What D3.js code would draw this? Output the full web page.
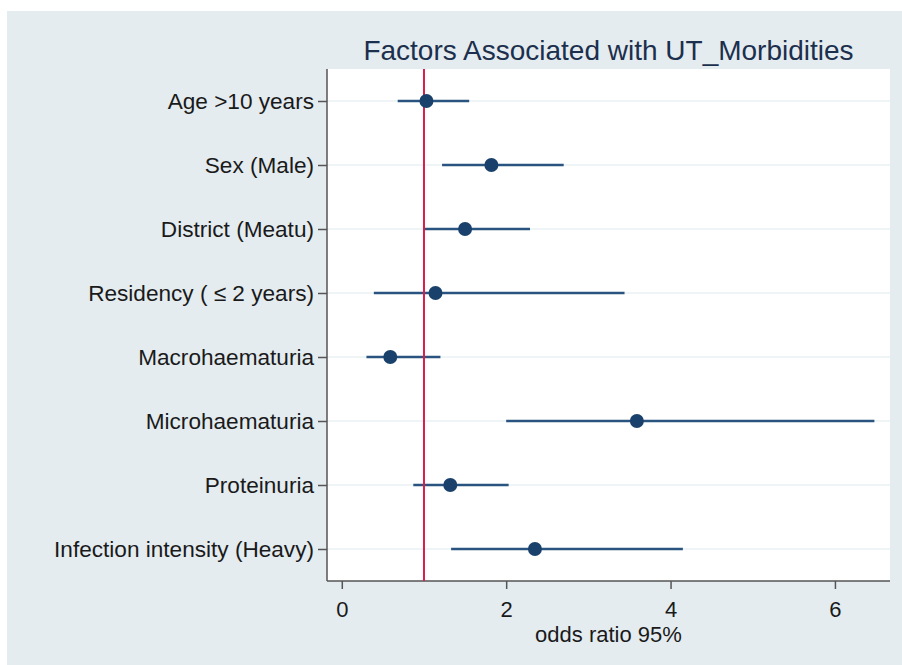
<!DOCTYPE html>
<html>
<head>
<meta charset="utf-8">
<script src="https://cdn.jsdelivr.net/npm/d3@7"></script>
<style>
  body { margin: 0; background: #fff; }
  text { font-family: "Liberation Sans", Arial, sans-serif; }
</style>
</head>
<body>
<div id="chart"></div>
<script>
var width = 902;
var height = 665;
var margin = ({ top: 69, right: 12, bottom: 84, left: 327 });

// factors, top to bottom
var factors = ["Age >10 years", "Sex (Male)", "District (Meatu)", "Residency ( \u2264 2 years)",
    "Macrohaematuria", "Microhaematuria", "Proteinuria", "Infection intensity (Heavy)"];
var oddsRatio = [1.03, 1.82, 1.50, 1.14, 0.59, 3.59, 1.32, 2.35];
var ciLow = [0.68, 1.22, 0.99, 0.39, 0.30, 2.00, 0.87, 1.33];
var ciHigh = [1.55, 2.70, 2.29, 3.44, 1.20, 6.48, 2.03, 4.15];
var xTicks = [0, 2, 4, 6];
var refValue = 1;

var data = factors.map((f, i) => ({ key: f, or: oddsRatio[i], lo: ciLow[i], hi: ciHigh[i] }));

var svg = d3.select("#chart")
    .append("svg")
    .attr("width", width)
    .attr("height", height);

// outer grey panel
svg.append("rect")
    .attr("x", 7)
    .attr("y", 11)
    .attr("width", width - 7)
    .attr("height", height - 11)
    .attr("fill", "#e4ecf0");

var x = d3.scaleLinear()
    .domain([-0.18, 6.67])
    .range([margin.left, width - margin.right]);

var y = d3.scalePoint()
    .domain(factors)
    .range([margin.top, height - margin.bottom])
    .padding(0.5);

// plot area
svg.append("rect")
    .attr("x", margin.left)
    .attr("y", margin.top)
    .attr("width", width - margin.right - margin.left)
    .attr("height", height - margin.bottom - margin.top)
    .attr("fill", "#ffffff");

// horizontal grid lines
svg.append("g")
    .selectAll("line")
    .data(factors)
    .enter()
    .append("line")
    .attr("x1", margin.left)
    .attr("x2", width - margin.right)
    .attr("y1", d => y(d))
    .attr("y2", d => y(d))
    .attr("stroke", "#eaf0f3")
    .attr("stroke-width", 1.5);

var xAxis = g => g
    .attr("transform", `translate(0,${height - margin.bottom})`)
    .call(d3.axisBottom(x)
        .tickValues(xTicks)
        .tickFormat(d3.format("d"))
        .tickSize(8)
        .tickPadding(12)
        .tickSizeOuter(0))
    .call(g => g.select(".domain")
        .attr("stroke", "#555")
        .attr("stroke-width", 1.5)
        .attr("d", `M${margin.left},0H${width - margin.right}`))
    .call(g => g.selectAll(".tick line").attr("stroke", "#555").attr("stroke-width", 1.5))
    .call(g => g.selectAll(".tick text")
        .attr("fill", "#1a1a1a")
        .style("font-size", "22px")
        .style("font-family", "Liberation Sans, Arial, sans-serif"));

var yAxis = g => g
    .attr("transform", `translate(${margin.left},0)`)
    .call(d3.axisLeft(y)
        .tickSize(9)
        .tickPadding(4)
        .tickSizeOuter(0))
    .call(g => g.select(".domain")
        .attr("stroke", "#555")
        .attr("stroke-width", 1.5)
        .attr("d", `M0,${margin.top}V${height - margin.bottom}`))
    .call(g => g.selectAll(".tick line").attr("stroke", "#555").attr("stroke-width", 1.5))
    .call(g => g.selectAll(".tick text")
        .attr("fill", "#1a1a1a")
        .style("font-size", "22.6px")
        .style("font-family", "Liberation Sans, Arial, sans-serif"));

svg.append("g").call(xAxis);
svg.append("g").call(yAxis);

// confidence intervals
svg.append("g")
    .selectAll("line")
    .data(data)
    .enter()
    .append("line")
    .attr("x1", d => x(d.lo))
    .attr("x2", d => x(d.hi))
    .attr("y1", d => y(d.key))
    .attr("y2", d => y(d.key))
    .attr("stroke", "#2a5480")
    .attr("stroke-width", 2.5);

// reference line at OR = 1
svg.append("line")
    .attr("x1", x(refValue))
    .attr("x2", x(refValue))
    .attr("y1", margin.top)
    .attr("y2", height - margin.bottom)
    .attr("stroke", "#d81e4a")
    .attr("stroke-width", 2);

// point estimates
svg.append("g")
    .selectAll("circle")
    .data(data)
    .enter()
    .append("circle")
    .attr("cx", d => x(d.or))
    .attr("cy", d => y(d.key))
    .attr("r", 7)
    .attr("fill", "#1a416b");

// title and x label
svg.append("text")
    .attr("x", (margin.left + width - margin.right) / 2)
    .attr("y", 60)
    .attr("text-anchor", "middle")
    .attr("fill", "#1c2f4d")
    .style("font-size", "28px")
    .text("Factors Associated with UT_Morbidities");

svg.append("text")
    .attr("x", (margin.left + width - margin.right) / 2)
    .attr("y", 642)
    .attr("text-anchor", "middle")
    .attr("fill", "#1a1a1a")
    .style("font-size", "22px")
    .text("odds ratio 95%");
</script>
</body>
</html>
